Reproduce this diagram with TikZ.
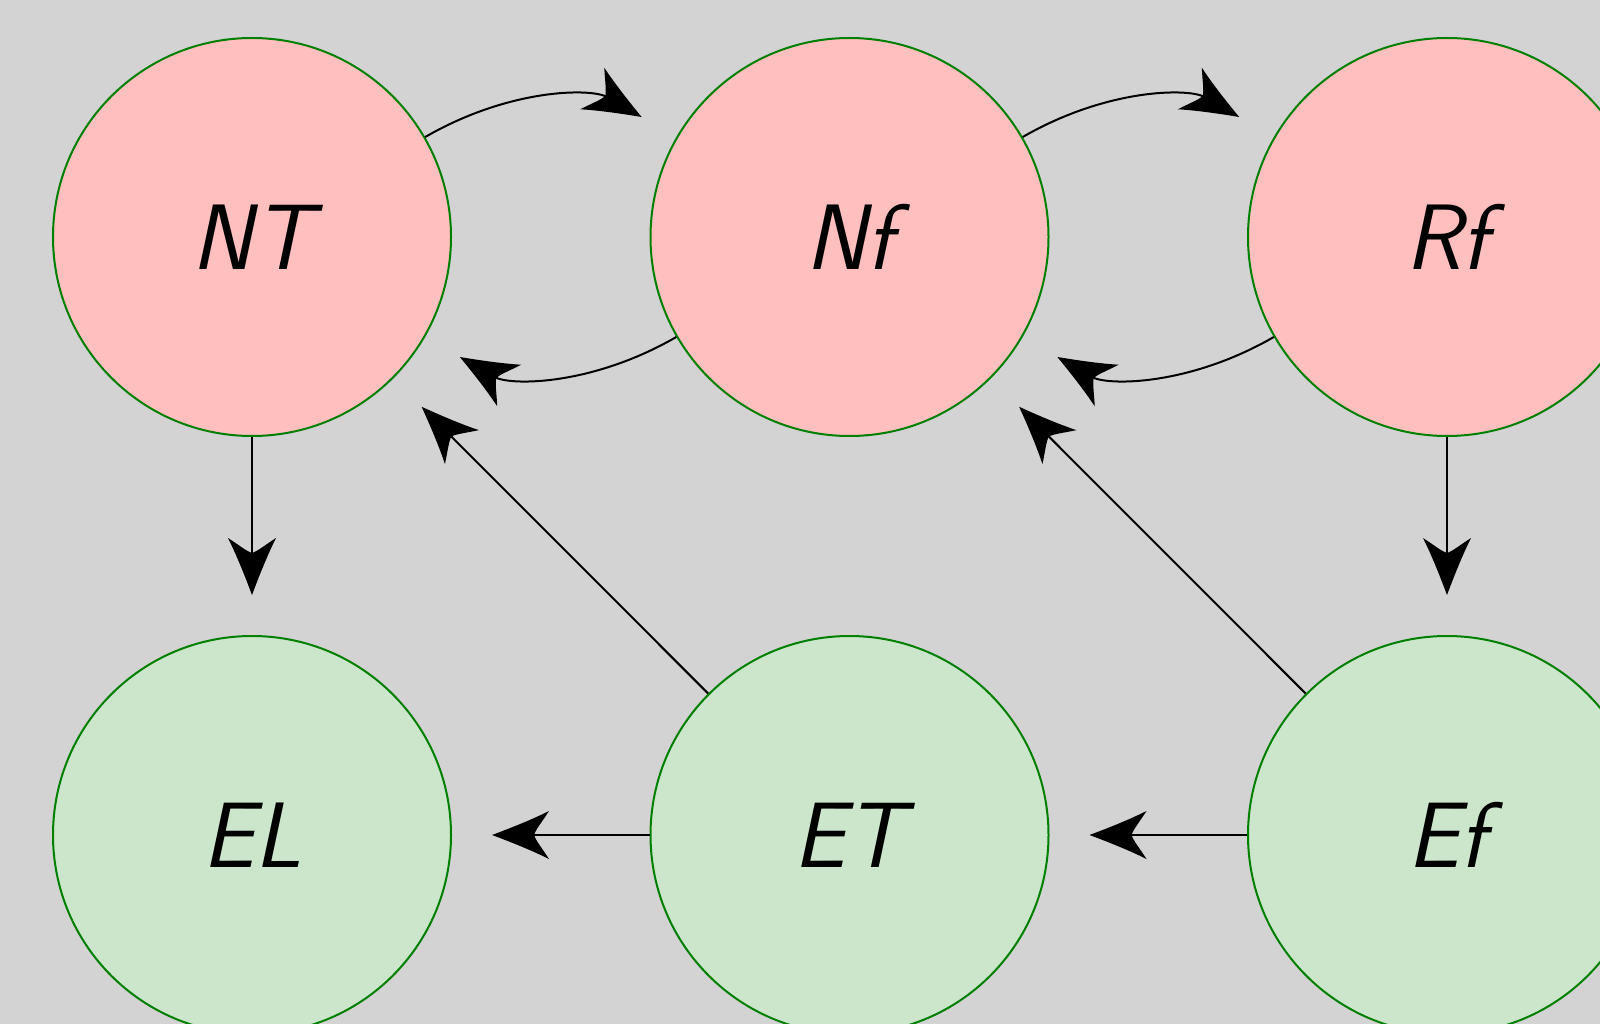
\documentclass[tikz,border=0pt]{standalone}
\usepackage{fontspec}
\definecolor{bggray}{RGB}{211,211,211}
\definecolor{rimgreen}{RGB}{0,128,0}
\definecolor{nodepink}{RGB}{255,191,191}
\definecolor{nodegreen}{RGB}{204,230,204}

% filled arrow head with concave sides and a rounded notch at the back
\pgfdeclarearrow{
  name = Barb,
  setup code = {
    \pgfarrowssettipend{0pt}
    \pgfarrowssetbackend{-57pt}
    \pgfarrowssetlineend{-40pt}
    \pgfarrowssetvisualbackend{-42pt}
    \pgfarrowshullpoint{0pt}{0pt}
    \pgfarrowshullpoint{-57pt}{24pt}
    \pgfarrowshullpoint{-57pt}{-24pt}
  },
  drawing code = {
    \pgfpathmoveto{\pgfpoint{0pt}{0pt}}
    \pgfpathcurveto{\pgfpoint{-20pt}{7.5pt}}{\pgfpoint{-40pt}{15.5pt}}{\pgfpoint{-57pt}{24pt}}
    \pgfpathcurveto{\pgfpoint{-50pt}{13pt}}{\pgfpoint{-44pt}{6pt}}{\pgfpoint{-42pt}{0pt}}
    \pgfpathcurveto{\pgfpoint{-44pt}{-6pt}}{\pgfpoint{-50pt}{-13pt}}{\pgfpoint{-57pt}{-24pt}}
    \pgfpathcurveto{\pgfpoint{-40pt}{-15.5pt}}{\pgfpoint{-20pt}{-7.5pt}}{\pgfpoint{0pt}{0pt}}
    \pgfpathclose
    \pgfusepathqfill
  }
}

\tikzset{
  state/.style={circle, draw=rimgreen, line width=2pt, minimum size=398pt,
    inner sep=0pt, font=\fontsize{93}{100}\selectfont\sffamily\itshape,
    text height=65pt, text depth=0pt},
  pinkstate/.style={state, fill=nodepink},
  greenstate/.style={state, fill=nodegreen},
  arr/.style={-Barb, line width=2pt, shorten >=40pt},
}

\begin{document}
\begin{tikzpicture}[x=1pt, y=-1pt]
  \path[use as bounding box, fill=bggray] (0,0) rectangle (1600,1024);
  \clip (0,0) rectangle (1600,1024);

  % upper row
  \node[pinkstate] (NT) at (252,237) {NT};
  \node[pinkstate] (Nf) at (849.5,237) {Nf};
  \node[pinkstate] (Rf) at (1447,237) {Rf};
  % lower row
  \node[greenstate] (EL) at (252,835) {EL};
  \node[greenstate] (ET) at (849.5,835) {ET};
  \node[greenstate] (Ef) at (1447,835) {Ef};

  % transitions
  \draw[arr] (NT) to[bend left] (Nf);
  \draw[arr] (Nf) to[bend left] (NT);
  \draw[arr] (Nf) to[bend left] (Rf);
  \draw[arr] (Rf) to[bend left] (Nf);
  \draw[arr] (NT) -- (EL);
  \draw[arr] (Rf) -- (Ef);
  \draw[arr] (ET) -- (EL);
  \draw[arr] (Ef) -- (ET);
  \draw[arr] (ET) -- (NT);
  \draw[arr] (Ef) -- (Nf);
\end{tikzpicture}
\end{document}
